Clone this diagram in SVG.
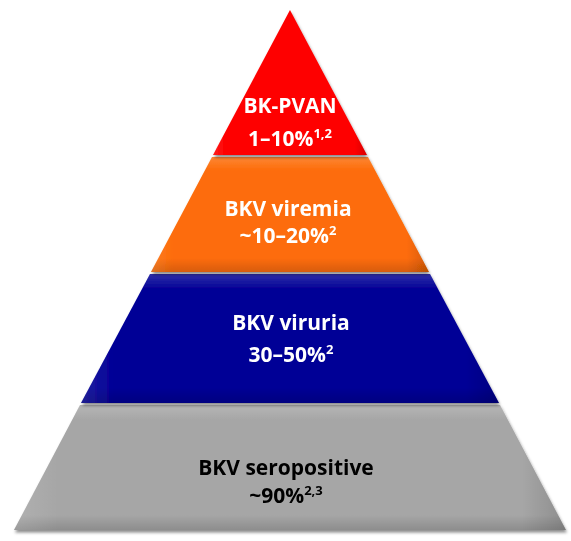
<svg xmlns="http://www.w3.org/2000/svg" width="571" height="541" viewBox="0 0 571 541">
<defs>
<filter id="sh" x="-10%" y="-10%" width="120%" height="130%">
<feDropShadow dx="1" dy="2.5" stdDeviation="1.8" flood-color="#000" flood-opacity="0.45"/>
</filter>
<linearGradient id="bevel" x1="0" y1="0" x2="0" y2="1">
<stop offset="0" stop-color="#fff" stop-opacity="0.18"/>
<stop offset="0.12" stop-color="#fff" stop-opacity="0"/>
<stop offset="0.88" stop-color="#000" stop-opacity="0"/>
<stop offset="1" stop-color="#000" stop-opacity="0.15"/>
</linearGradient>
<linearGradient id="side" x1="0" y1="0" x2="1" y2="0">
<stop offset="0" stop-color="#fff" stop-opacity="0.12"/>
<stop offset="0.08" stop-color="#fff" stop-opacity="0"/>
<stop offset="0.92" stop-color="#000" stop-opacity="0"/>
<stop offset="1" stop-color="#000" stop-opacity="0.15"/>
</linearGradient>
</defs>
<style>
.t{font-family:"Open Sans","Liberation Sans",sans-serif;font-weight:700;font-size:21px;text-anchor:middle}
.w{fill:#fff}
.k{fill:#000}
.sup{font-size:13px}
</style>
<rect width="571" height="541" fill="#fff"/>
<g id="layer-gray" filter="url(#sh)">
<polygon points="80,405 500,405 566,530 14,530" fill="#a6a6a6"/>
<polygon points="80,405 500,405 566,530 14,530" fill="url(#bevel)"/>
<polygon points="80,405 500,405 566,530 14,530" fill="url(#side)"/>
<text class="t k" x="286" y="475">BKV seropositive</text>
<text class="t k" x="286" y="503">~90%<tspan class="sup" dy="-8">2,3</tspan></text>
</g>
<g id="layer-blue" filter="url(#sh)">
<polygon points="150,274 430,274 499,403 81,403" fill="#020096"/>
<polygon points="150,274 430,274 499,403 81,403" fill="url(#bevel)"/>
<polygon points="150,274 430,274 499,403 81,403" fill="url(#side)"/>
<text class="t w" x="291" y="330">BKV viruria</text>
<text class="t w" x="291" y="362">30–50%<tspan class="sup" dy="-8">2</tspan></text>
</g>
<g id="layer-orange" filter="url(#sh)">
<polygon points="212,157 368,157 429,272 151,272" fill="#fd6c08"/>
<polygon points="212,157 368,157 429,272 151,272" fill="url(#bevel)"/>
<polygon points="212,157 368,157 429,272 151,272" fill="url(#side)"/>
<text class="t w" x="288" y="216">BKV viremia</text>
<text class="t w" x="288" y="243">~10–20%<tspan class="sup" dy="-8">2</tspan></text>
</g>
<g id="layer-red" filter="url(#sh)">
<polygon points="290,10 367,155 213,155" fill="#fe0000"/>
<polygon points="290,10 367,155 213,155" fill="url(#side)"/>
<text class="t w" x="290" y="113">BK-PVAN</text>
<text class="t w" x="290" y="146">1–10%<tspan class="sup" dy="-8">1,2</tspan></text>
</g>
</svg>
